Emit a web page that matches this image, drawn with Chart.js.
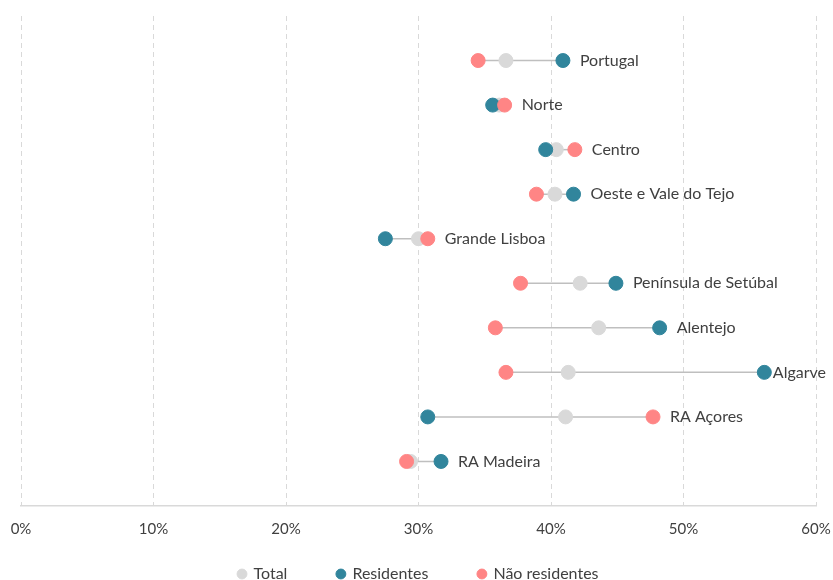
<!DOCTYPE html>
<html>
<head>
<meta charset="utf-8">
<script src="https://cdn.jsdelivr.net/npm/chart.js@4"></script>
<style>
  html, body { margin: 0; padding: 0; background: #fff; }
  #wrap { width: 833px; height: 580px; }
</style>
</head>
<body>
<div id="wrap"><canvas id="grafico"></canvas></div>
<script>
// dados (%)
const regioes = ['Portugal', 'Norte', 'Centro', 'Oeste e Vale do Tejo', 'Grande Lisboa',
    'Península de Setúbal', 'Alentejo', 'Algarve', 'RA Açores', 'RA Madeira'];
const total = [36.6, 36.1, 40.4, 40.3, 30.0, 42.2, 43.6, 41.3, 41.1, 29.4];
const residentes = [40.9, 35.6, 39.6, 41.7, 27.5, 44.9, 48.2, 56.1, 30.7, 31.7];
const naoResidentes = [34.5, 36.5, 41.8, 38.9, 30.7, 37.7, 35.8, 36.6, 47.7, 29.1];
const xTicks = [0, 10, 20, 30, 40, 50, 60];

const corTexto = '#404040';
const fonte = 'Lato, "Open Sans", sans-serif';

function pontos(valores) {
    return valores.map((v, i) => ({ x: v, y: regioes.length - i }));
}

// linha cinzenta entre o mínimo e o máximo de cada região
const ligacoes = {
    id: 'ligacoes',
    beforeDatasetsDraw(chart) {
        const ctx = chart.ctx, xs = chart.scales.x, ys = chart.scales.y;
        ctx.save();
        ctx.strokeStyle = '#bfbfbf';
        ctx.lineWidth = 1.5;
        regioes.forEach((r, i) => {
            const vals = [total[i], residentes[i], naoResidentes[i]];
            const y = ys.getPixelForValue(regioes.length - i);
            ctx.beginPath();
            ctx.moveTo(xs.getPixelForValue(Math.min(...vals)), y);
            ctx.lineTo(xs.getPixelForValue(Math.max(...vals)), y);
            ctx.stroke();
        });
        ctx.restore();
    }
};

// nome da região à direita do ponto mais alto (sem sair da tela)
const nomes = {
    id: 'nomes',
    afterDatasetsDraw(chart) {
        const ctx = chart.ctx, xs = chart.scales.x, ys = chart.scales.y;
        ctx.save();
        ctx.fillStyle = corTexto;
        ctx.font = '16px ' + fonte;
        ctx.textBaseline = 'middle';
        ctx.textAlign = 'left';
        regioes.forEach((r, i) => {
            const mx = Math.max(total[i], residentes[i], naoResidentes[i]);
            const w = ctx.measureText(r).width;
            const x = Math.min(xs.getPixelForValue(mx) + 17, chart.width - w - 7);
            ctx.fillText(r, x, ys.getPixelForValue(regioes.length - i));
        });
        ctx.restore();
    }
};

// a legenda fica mais perto do eixo; alarga a área de recorte das etiquetas do eixo x
const eixoX = {
    id: 'eixoX',
    afterLayout(chart) {
        chart.scales.x.bottom = chart.height;
    }
};

function serie(label, valores, cor, ordem) {
    return {
        label: label,
        data: pontos(valores),
        backgroundColor: cor,
        borderColor: cor,
        borderWidth: 1,
        pointRadius: 7,
        pointHoverRadius: 7,
        pointStyle: 'circle',
        order: ordem
    };
}

new Chart(document.getElementById('grafico').getContext('2d'), {
    type: 'scatter',
    data: {
        datasets: [
            serie('Total', total, '#d9d9d9', 3),
            serie('Residentes', residentes, '#31859c', 2),
            serie('Não residentes', naoResidentes, '#ff8585', 1)
        ]
    },
    options: {
        responsive: true,
        maintainAspectRatio: false,
        animation: false,
        layout: { padding: { top: 16, left: 21, right: 17, bottom: -12 } },
        scales: {
            x: {
                min: 0,
                max: 60,
                afterBuildTicks: axis => { axis.ticks = xTicks.map(v => ({ value: v })); },
                afterFit: axis => {
                    axis.height = 10;
                    axis.paddingLeft = 0;
                    axis.paddingRight = 0;
                },
                grid: {
                    color: '#d9d9d9',
                    lineWidth: 1,
                    drawTicks: false
                },
                border: { display: true, color: '#d9d9d9', width: 1.5, dash: [5, 4] },
                ticks: {
                    color: corTexto,
                    font: { size: 15, family: fonte },
                    padding: 14,
                    maxRotation: 0,
                    callback: v => v + '%'
                }
            },
            y: {
                display: false,
                min: 0,
                max: 11
            }
        },
        plugins: {
            legend: {
                position: 'bottom',
                labels: {
                    usePointStyle: true,
                    boxWidth: 7,
                    boxHeight: 7,
                    padding: 50,
                    color: corTexto,
                    font: { size: 16, family: fonte },
                    sort: (a, b) => a.datasetIndex - b.datasetIndex
                }
            },
            tooltip: { enabled: false }
        }
    },
    plugins: [ligacoes, nomes, eixoX]
});
</script>
</body>
</html>
